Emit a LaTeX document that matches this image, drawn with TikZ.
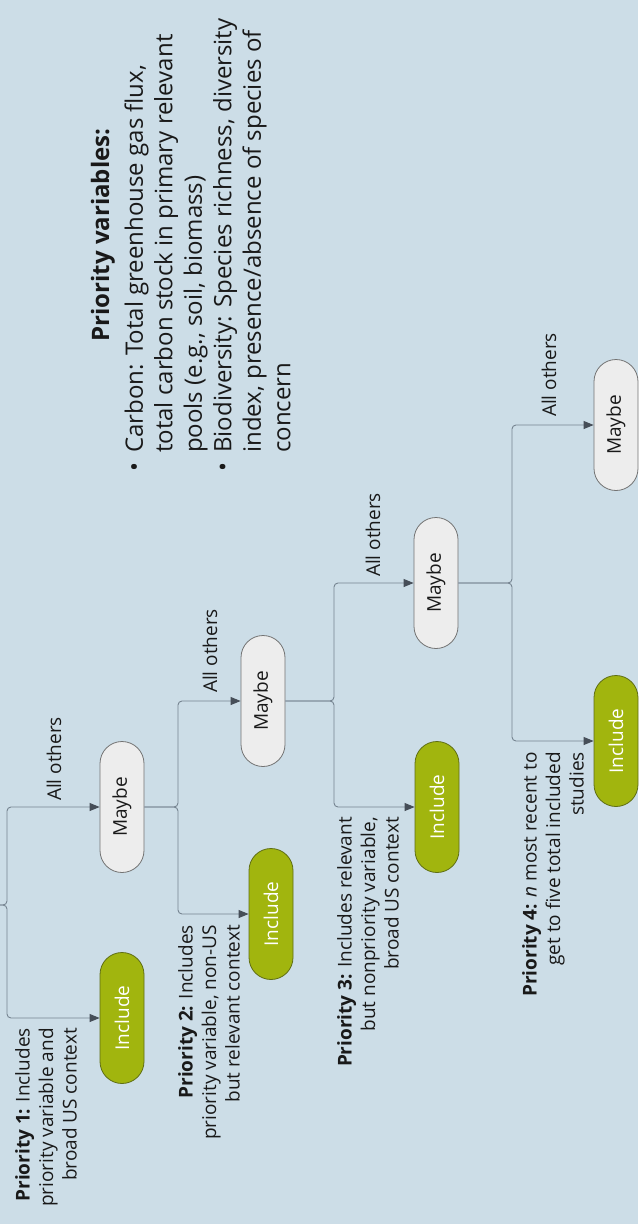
\documentclass[tikz,border=0pt]{standalone}
\usepackage{fontspec}
\setmainfont{Open Sans}
\usetikzlibrary{shapes.misc,arrows.meta}
\definecolor{bg}{RGB}{204,221,231}
\definecolor{incfill}{RGB}{161,181,14}
\definecolor{incdraw}{RGB}{95,110,20}
\definecolor{mayfill}{RGB}{237,237,237}
\definecolor{maydraw}{RGB}{115,115,115}
\definecolor{conn}{RGB}{118,132,145}
\definecolor{tipc}{RGB}{70,78,88}
\definecolor{txt}{RGB}{25,25,25}
\begin{document}
\begin{tikzpicture}[x=1pt,y=-1pt,
  pill/.style={rounded rectangle, rotate=90, minimum width=131pt, minimum height=44pt, inner sep=0pt, line width=0.8pt, font=\fontsize{19}{23}\selectfont},
  incnode/.style={pill, fill=incfill, draw=incdraw, text=white},
  maynode/.style={pill, fill=mayfill, draw=maydraw, text=txt},
  lbl/.style={rotate=90, inner sep=0pt, text=txt, font=\fontsize{19}{23}\selectfont},
  prio/.style={rotate=90, inner sep=0pt, align=right, anchor=east, text=txt, font=\fontsize{19}{23.5}\selectfont},
  link/.style={draw=conn, line width=0.9pt, rounded corners=4pt},
  arr/.style={link, -{Triangle[length=10pt,width=8pt,color=tipc]}}
]
\useasboundingbox[fill=bg] (0,0) rectangle (638,1224);

% pills
\node[incnode] (i1) at (122,1018) {Include};
\node[maynode] (m1) at (122,807) {Maybe};
\node[incnode] (i2) at (271,914) {Include};
\node[maynode] (m2) at (263,701) {Maybe};
\node[maynode] (m3) at (436,583) {Maybe};
\node[incnode] (i3) at (437,807) {Include};
\node[maynode] (m4) at (616,425) {Maybe};
\node[incnode] (i4) at (616,741) {Include};

% junction points
\coordinate (r0) at (0,905);
\coordinate (j0) at (7,905);
\coordinate (j1) at (178,807);
\coordinate (j2) at (334,701);
\coordinate (j3) at (512,583);

% connectors
\draw[arr] (r0) -- (j0) |- (m1.north);
\draw[arr] (r0) -- (j0) |- (i1.north);
\draw[arr] (m1.south) -- (j1) |- (m2.north);
\draw[arr] (m1.south) -- (j1) |- (i2.north);
\draw[arr] (m2.south) -- (j2) |- (m3.north);
\draw[arr] (m2.south) -- (j2) |- (i3.north);
\draw[arr] (m3.south) -- (j3) |- (m4.north);
\draw[arr] (m3.south) -- (j3) |- (i4.north);

% edge labels
\node[lbl] (a1) at (54,759) {All others};
\node[lbl] (a2) at (210,651) {All others};
\node[lbl] (a3) at (373,535) {All others};
\node[lbl] (a4) at (549,375) {All others};

% priority descriptions
\node[prio] (p1) at (46,1028) {\textbf{Priority 1:} Includes\\priority variable and\\broad US context};
\node[prio] (p2) at (209,925) {\textbf{Priority 2:} Includes\\priority variable, non-US\\but relevant context};
\node[prio] (p3) at (368,817) {\textbf{Priority 3:} Includes relevant\\but nonpriority variable,\\broad US context};
\node[prio] (p4) at (553,752) {\textbf{Priority 4:} \textit{n} most recent to\\get to five total included\\studies};

% priority variables
\node[rotate=90, inner sep=0pt, text=txt, font=\bfseries\fontsize{24}{29}\selectfont] (pvt) at (103,235) {Priority variables:};
\node[rotate=90, inner sep=0pt, anchor=north west, text=txt, font=\fontsize{24}{29.5}\selectfont] (pvl) at (122,472)
{\begin{tabular}{@{}l@{}l@{}}
\makebox[19pt][l]{•} & Carbon: Total greenhouse gas flux,\\
 & total carbon stock in primary relevant\\
 & pools (e.g., soil, biomass)\\
\makebox[19pt][l]{•} & Biodiversity: Species richness, diversity\\
 & index, presence/absence of species of\\
 & concern
\end{tabular}};
\end{tikzpicture}
\end{document}
